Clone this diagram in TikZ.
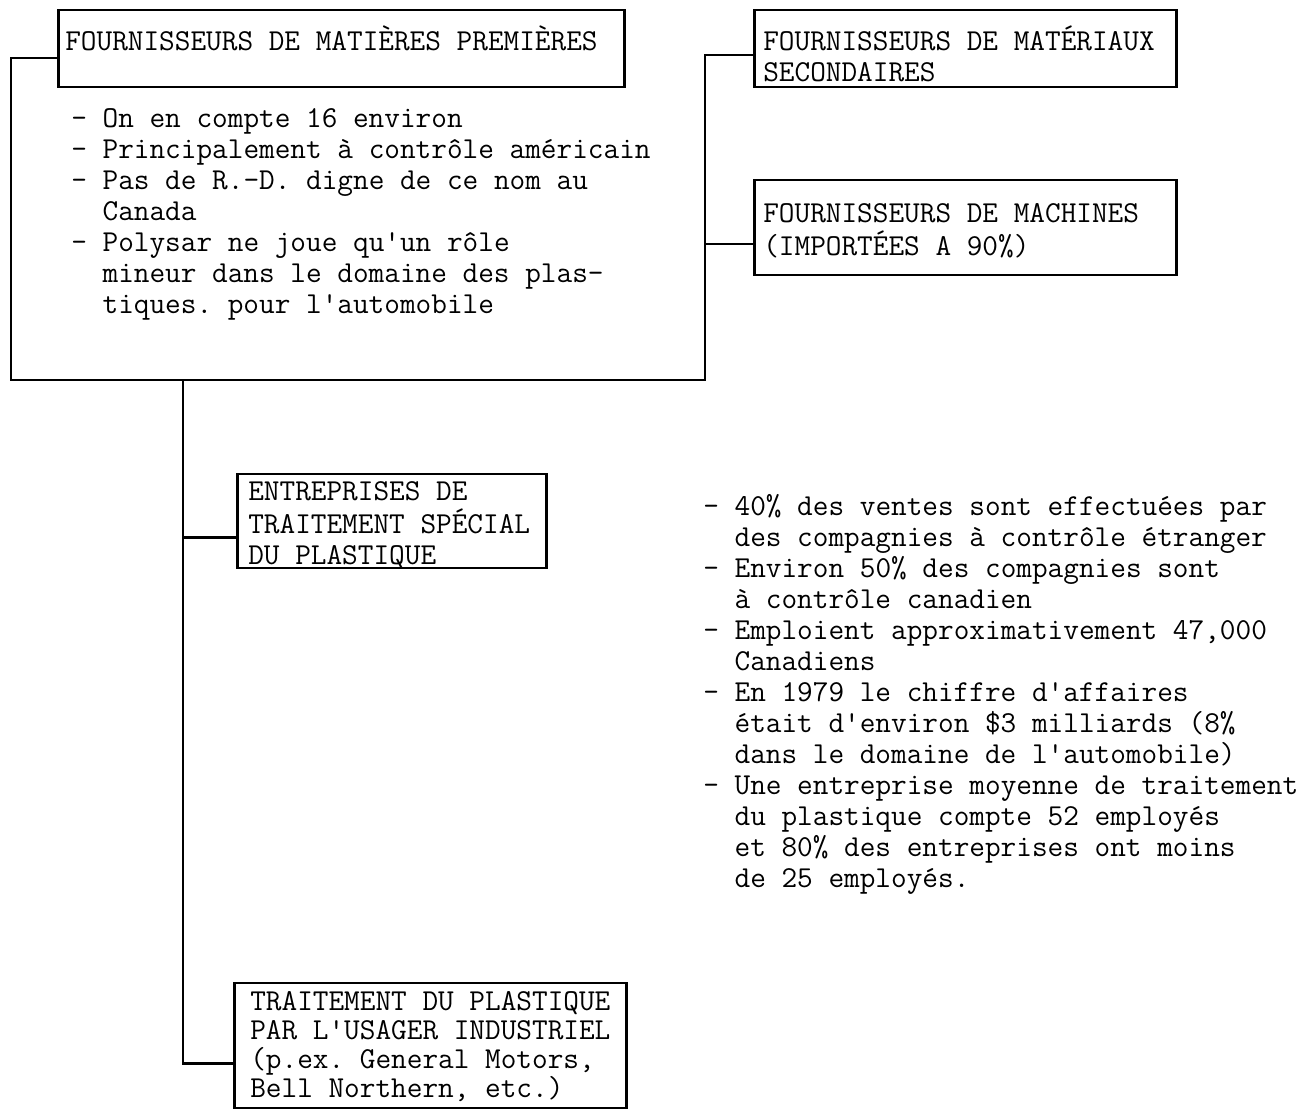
\documentclass[tikz,border=0pt]{standalone}
\usepackage{fontspec}
\usetikzlibrary{calc}
\newcommand{\typed}{\fontsize{15.2}{15.5}\selectfont\ttfamily\frenchspacing}

\begin{document}
\begin{tikzpicture}[
    x=0.5pt, y=-0.5pt,
    line width=1.3pt,
    unit/.style={draw, inner sep=0pt, anchor=base west},
    notes/.style={inner sep=0pt, anchor=base west},
    font=\typed,
  ]
    \useasboundingbox (0,0) rectangle (1314,1110);
    \node[unit, text height=20pt, text depth=18.5pt] (premieres) at (57,50) {%
      \begin{tabular}[t]{@{\hspace{3.5pt}}p{279.5pt}@{}}
        FOURNISSEURS DE MATIÈRES PREMIÈRES
      \end{tabular}%
    };
    \node[notes] (facts1) at (70,127) {%
      \begin{tabular}[t]{@{}l@{\ }l@{}}
        - & On en compte 16 environ \\
        - & Principalement à contrôle américain \\
        - & Pas de R.-D. digne de ce nom au \\
          & Canada \\
        - & Polysar ne joue qu'un rôle \\
          & mineur dans le domaine des plas- \\
          & tiques. pour l'automobile
      \end{tabular}%
    };
    \node[unit, text height=20pt, text depth=18.5pt] (secondaires) at (753,50) {%
      \begin{tabular}[t]{@{\hspace{4.5pt}}p{206.5pt}@{}}
        FOURNISSEURS DE MATÉRIAUX \\
        SECONDAIRES
      \end{tabular}%
    };
    \node[unit, text height=21pt, text depth=26.5pt] (machines) at (753,222) {%
      \begin{tabular}[t]{@{\hspace{4.5pt}}p{206.5pt}@{}}
        FOURNISSEURS DE MACHINES \\
        (IMPORTÉES A 90\%)
      \end{tabular}%
    };
    \node[unit, text height=13pt, text depth=34pt] (entreprises) at (236,500) {%
      \begin{tabular}[t]{@{\hspace{5.5pt}}p{149pt}@{}}
        ENTREPRISES DE \\
        TRAITEMENT SPÉCIAL \\
        DU PLASTIQUE
      \end{tabular}%
    };
    \node[unit, text height=13.5pt, text depth=49pt] (usager) at (233,1010) {%
      \begin{tabular}[t]{@{\hspace{8pt}}p{188pt}@{}}
        TRAITEMENT DU PLASTIQUE \\[-1pt]
        PAR L'USAGER INDUSTRIEL \\[-1pt]
        (p.ex. General Motors, \\[-1pt]
        Bell Northern, etc.)
      \end{tabular}%
    };
    \node[notes] (facts2) at (702,515) {%
      \begin{tabular}[t]{@{}l@{\ }l@{}}
        - & 40\% des ventes sont effectuées par \\
          & des compagnies à contrôle étranger \\
        - & Environ 50\% des compagnies sont \\
          & à contrôle canadien \\
        - & Emploient approximativement 47,000 \\
          & Canadiens \\
        - & En 1979 le chiffre d'affaires \\
          & était d'environ \$3 milliards (8\% \\
          & dans le domaine de l'automobile) \\
        - & Une entreprise moyenne de traitement \\
          & du plastique compte 52 employés \\
          & et 80\% des entreprises ont moins \\
          & de 25 employés.
      \end{tabular}%
    };
    \coordinate (frameSW) at (11,380);
    \coordinate (frameSE) at (705,380);
    \coordinate (trunk) at (183,380);
    \coordinate (inPrem) at ($(premieres.north west)!.62!(premieres.south west)$);
    \coordinate (inSec) at ($(secondaires.north west)!.58!(secondaires.south west)$);
    \coordinate (inMach) at ($(machines.north west)!.67!(machines.south west)$);
    \coordinate (inEntr) at ($(entreprises.north west)!.67!(entreprises.south west)$);
    \coordinate (inUsager) at ($(usager.north west)!.64!(usager.south west)$);
    \draw (inPrem) -| (frameSW) -- (frameSE) |- (inSec);
    \draw (frameSE |- inMach) -- (inMach);
    \draw (trunk) |- (inUsager);
    \draw (trunk |- inEntr) -- (inEntr);
  \end{tikzpicture}
\end{document}
